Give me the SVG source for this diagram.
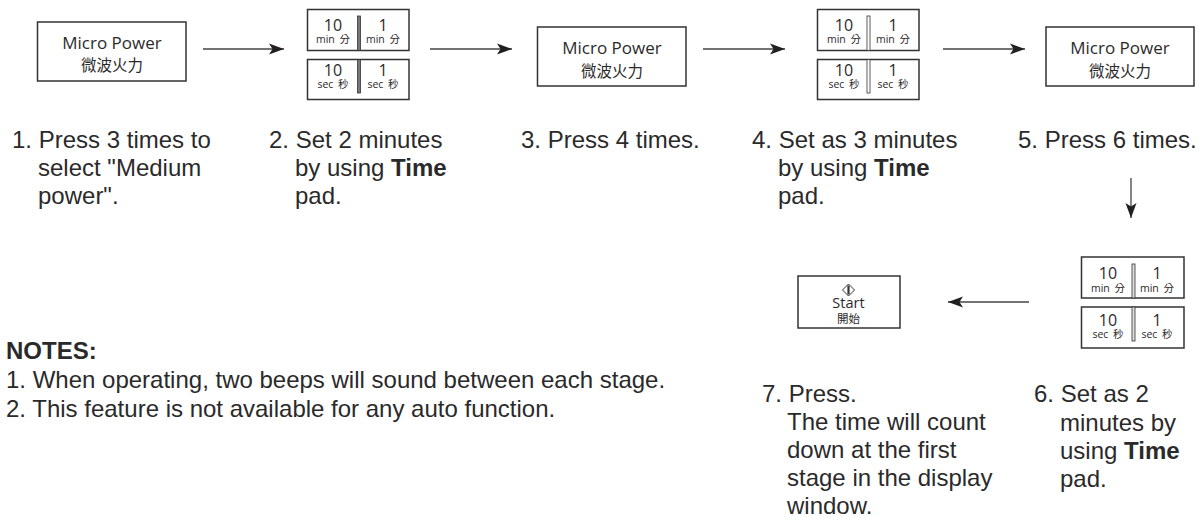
<svg xmlns="http://www.w3.org/2000/svg" width="1200" height="517" viewBox="0 0 1200 517">
<defs>
<style>
text{fill:#2b2a2b}
.b{font-family:"Liberation Sans",Arial,sans-serif;font-size:24px}
.k{fill:#fff;stroke:#333;stroke-width:1.5}
.d{fill:#77787b;stroke:#333;stroke-width:.8}
.p{font-family:"Open Sans",sans-serif;font-size:17px;text-anchor:middle}
.c{font-family:"Noto Sans CJK TC",sans-serif;font-size:15.500px;text-anchor:middle}
.n{font-family:"Open Sans",sans-serif;font-size:16px;text-anchor:middle}
.u{font-family:"Open Sans","Noto Sans CJK TC",sans-serif;font-size:10.500px;text-anchor:middle;word-spacing:2px}
.l{stroke:#444;stroke-width:1.3;fill:none}
.t{font-weight:700}
</style>
<marker id="a" markerUnits="userSpaceOnUse" markerWidth="16" markerHeight="12" refX="15" refY="6" orient="auto"><path d="M0 .5L15 6L0 11.500L3.500 6Z" fill="#231f20"/></marker>
</defs>
<rect width="1200" height="517" fill="#fff"/>
<g id="connectors">
<path class="l" marker-end="url(#a)" d="M203 49H284"/>
<path class="l" marker-end="url(#a)" d="M430 49H512"/>
<path class="l" marker-end="url(#a)" d="M703 49H785"/>
<path class="l" marker-end="url(#a)" d="M943 49H1025"/>
<path class="l" marker-end="url(#a)" d="M1131 178V218"/>
<path class="l" marker-end="url(#a)" d="M1029 302H948"/>
</g>
<g id="power1"><rect class="k" x="37.500" y="22" width="148.500" height="59"/><text class="p" x="112" y="49">Micro Power</text><text class="c" x="112" y="71">微波火力</text></g>
<g id="pad1">
<rect class="k" x="307.500" y="9.500" width="101.500" height="41"/><rect class="k" x="307.500" y="59.500" width="101.500" height="40"/>
<rect class="d" x="357.500" y="16" width="3" height="34.500"/><rect class="d" x="357.500" y="59.500" width="3" height="33.500"/>
<text class="n" x="333" y="31">10</text><text class="n" x="383" y="31">1</text><text class="u" x="333" y="43">min 分</text><text class="u" x="383" y="43">min 分</text>
<text class="n" x="333" y="76">10</text><text class="n" x="383" y="76">1</text><text class="u" x="333" y="88">sec 秒</text><text class="u" x="383" y="88">sec 秒</text></g>
<g id="power2"><rect class="k" x="537.500" y="27" width="148.500" height="59"/><text class="p" x="612" y="54">Micro Power</text><text class="c" x="612" y="77">微波火力</text></g>
<g id="pad2">
<rect class="k" x="817.500" y="9.500" width="101.500" height="41"/><rect class="k" x="817.500" y="59.500" width="101.500" height="40"/>
<rect class="d" x="867" y="16" width="3" height="34.500" style="fill:#fff"/><rect class="d" x="867" y="59.500" width="3" height="33.500" style="fill:#fff"/>
<text class="n" x="844" y="31">10</text><text class="n" x="893" y="31">1</text><text class="u" x="844" y="43">min 分</text><text class="u" x="893" y="43">min 分</text>
<text class="n" x="844" y="76">10</text><text class="n" x="893" y="76">1</text><text class="u" x="844" y="88">sec 秒</text><text class="u" x="893" y="88">sec 秒</text></g>
<g id="power3"><rect class="k" x="1046" y="27" width="148" height="59"/><text class="p" x="1120" y="54">Micro Power</text><text class="c" x="1120" y="77">微波火力</text></g>
<g id="pad3">
<rect class="k" x="1081.500" y="257" width="102.500" height="41"/><rect class="k" x="1081.500" y="307" width="102.500" height="41"/>
<rect class="d" x="1132" y="264" width="3" height="34" style="fill:#ddd"/><rect class="d" x="1132" y="307" width="3" height="34" style="fill:#ddd"/>
<text class="n" x="1108" y="279">10</text><text class="n" x="1157" y="279">1</text><text class="u" x="1108" y="292">min 分</text><text class="u" x="1157" y="292">min 分</text>
<text class="n" x="1108" y="326">10</text><text class="n" x="1157" y="326">1</text><text class="u" x="1108" y="338">sec 秒</text><text class="u" x="1157" y="338">sec 秒</text></g>
<g id="start"><rect class="k" x="798" y="276" width="102" height="52"/>
<path d="M848.500 284L854.500 290L848.500 296L842.500 290Z" fill="#fff" stroke="#333" stroke-width="1"/><path d="M848.500 285.500V294.500" stroke="#333" stroke-width="2.200"/>
<text class="p" x="848.500" y="308" style="font-size:14.500px">Start</text><text class="c" x="848.500" y="323" style="font-size:11.500px">開始</text></g>
<g id="labels" class="b">
<text x="12" y="148">1. Press 3 times to</text><text x="38" y="176">select "Medium</text><text x="38" y="204">power".</text>
<text x="269" y="148">2. Set 2 minutes</text><text x="295" y="176">by using <tspan class="t">Time</tspan></text><text x="295" y="204">pad.</text>
<text x="521" y="148">3. Press 4 times.</text>
<text x="752" y="148">4. Set as 3 minutes</text><text x="778" y="176">by using <tspan class="t">Time</tspan></text><text x="778" y="204">pad.</text>
<text x="1018" y="148">5. Press 6 times.</text>
<text x="762" y="402">7. Press.</text><text x="787" y="430">The time will count</text><text x="787" y="458">down at the first</text><text x="787" y="486">stage in the display</text><text x="787" y="514">window.</text>
<text x="1034" y="402">6. Set as 2</text><text x="1060" y="431">minutes by</text><text x="1060" y="459">using <tspan class="t">Time</tspan></text><text x="1060" y="487">pad.</text>
<text x="6" y="359" class="t">NOTES:</text>
<text x="6" y="388">1. When operating, two beeps will sound between each stage.</text>
<text x="6" y="417">2. This feature is not available for any auto function.</text>
</g>
</svg>
